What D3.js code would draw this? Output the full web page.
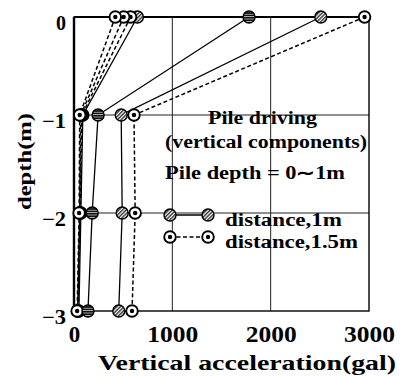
<!DOCTYPE html>
<html>
<head>
<meta charset="utf-8">
<script src="https://cdn.jsdelivr.net/npm/d3@7"></script>
<style>
  body { margin: 0; background: #fff; }
  svg text { font-family: "Liberation Serif", "Times New Roman", Times, serif; font-weight: bold; fill: #000; }
</style>
</head>
<body>
<svg id="chart" width="401" height="376"></svg>
<script>
// depth of each reading (m)
var depths = [0, -1, -2, -3];

// vertical acceleration (gal), one value per depth
var hatchA  = [2510, 480, 490, 455];   // distance 1m
var ringA   = [2955, 610, 622, 590];   // distance 1.5m
var stripeA = [1780, 245, 185, 142];
var hatchB  = [645, 90, 70, 50];
var ringB   = [575, 80, 62, 42];
var ringC   = [505, 68, 58, 38];
var ringD   = [420, 58, 52, 32];

var xTicks = [0, 1000, 2000, 3000];
var yTicks = [0, -1, -2, -3];
var legendLabels = ["distance,1m", "distance,1.5m"];
var noteLines = ["Pile driving", "(vertical components)", "Pile depth = 0\u223C1m"];

var svg = d3.select("#chart");

var x = d3.scaleLinear().domain([0, 3000]).range([74, 369]);
var y = d3.scaleLinear().domain([-3, 0]).range([311, 17]);

// patterns for the markers
var defs = svg.append("defs");
var ph = defs.append("pattern").attr("id", "hatch").attr("patternUnits", "userSpaceOnUse")
  .attr("width", 2.6).attr("height", 2.6).attr("patternTransform", "rotate(45)");
ph.append("rect").attr("width", 2.6).attr("height", 2.6).attr("fill", "#fff");
ph.append("rect").attr("width", 1.4).attr("height", 2.6).attr("fill", "#333");
var ps = defs.append("pattern").attr("id", "stripe").attr("patternUnits", "userSpaceOnUse")
  .attr("width", 3).attr("height", 2.4);
ps.append("rect").attr("width", 3).attr("height", 2.4).attr("fill", "#fff");
ps.append("rect").attr("width", 3).attr("height", 1.8).attr("fill", "#111");

// grid
svg.append("g").selectAll("line").data([1000, 2000]).enter().append("line")
  .attr("x1", d => x(d)).attr("x2", d => x(d)).attr("y1", y(0)).attr("y2", y(-3))
  .attr("stroke", "#222").attr("stroke-width", 1);
svg.append("g").selectAll("line").data([-1, -2]).enter().append("line")
  .attr("x1", x(0)).attr("x2", x(3000)).attr("y1", d => y(d)).attr("y2", d => y(d))
  .attr("stroke", "#222").attr("stroke-width", 1);

// frame
svg.append("rect").attr("x", x(0)).attr("y", y(0)).attr("width", x(3000) - x(0)).attr("height", y(-3) - y(0))
  .attr("fill", "none").attr("stroke", "#000").attr("stroke-width", 1.4);
svg.append("line").attr("x1", x(0)).attr("x2", x(0)).attr("y1", y(0)).attr("y2", y(-3))
  .attr("stroke", "#000").attr("stroke-width", 2.4);
svg.append("line").attr("x1", x(0)).attr("x2", x(3000)).attr("y1", y(0)).attr("y2", y(0))
  .attr("stroke", "#000").attr("stroke-width", 2);

// axes (labels only)
var xAxis = svg.append("g").attr("transform", "translate(0," + (y(-3) + 31) + ")")
  .call(d3.axisBottom(x).tickValues(xTicks).tickSize(0).tickFormat(d3.format("d")));
xAxis.select(".domain").remove();
xAxis.selectAll("text").attr("y", 0).attr("dy", 0)
  .style("font-size", "23px")
  .attr("textLength", d => d === 0 ? null : 51).attr("lengthAdjust", "spacingAndGlyphs");

var yAxis = svg.append("g").attr("transform", "translate(66,0)")
  .call(d3.axisLeft(y).tickValues(yTicks).tickSize(0).tickFormat(d => d === 0 ? "0" : "\u2212" + Math.abs(d)));
yAxis.select(".domain").remove();
yAxis.selectAll("text").attr("x", 0).attr("dy", "0.36em").attr("transform", "translate(0,5)")
  .style("font-size", "20px").attr("text-anchor", "end")
  .attr("textLength", d => d === 0 ? null : 24).attr("lengthAdjust", "spacingAndGlyphs");

svg.append("text").attr("x", 98).attr("y", 370).style("font-size", "21px")
  .attr("textLength", 298).attr("lengthAdjust", "spacingAndGlyphs")
  .text("Vertical acceleration(gal)");
svg.append("text").attr("transform", "translate(31,210) rotate(-90)").style("font-size", "18px")
  .attr("textLength", 97).attr("lengthAdjust", "spacingAndGlyphs")
  .text("depth(m)");

// note text
var notePos = [[208, 124, 109], [165, 148, 202], [165, 179, 180]];
svg.append("g").selectAll("text").data(noteLines).enter().append("text")
  .attr("x", (d, i) => notePos[i][0]).attr("y", (d, i) => notePos[i][1])
  .attr("textLength", (d, i) => notePos[i][2]).attr("lengthAdjust", "spacingAndGlyphs")
  .style("font-size", "18px").text(d => d);

// series
var series = [
  { v: hatchB, kind: "hatch" },
  { v: ringB, kind: "ring" },
  { v: ringC, kind: "ring" },
  { v: ringD, kind: "ring" },
  { v: stripeA, kind: "stripe" },
  { v: hatchA, kind: "hatch" },
  { v: ringA, kind: "ring" }
];

var line = d3.line().x(d => x(d[0])).y(d => y(d[1]));

function drawMarker(g, kind) {
  if (kind === "ring") {
    g.append("circle").attr("r", 5.8).attr("fill", "#fff").attr("stroke", "#000").attr("stroke-width", 1.9);
    g.append("circle").attr("r", 2.2).attr("fill", "#000");
  } else {
    g.append("circle").attr("r", 6).attr("fill", kind === "hatch" ? "url(#hatch)" : "url(#stripe)")
      .attr("stroke", "#000").attr("stroke-width", 1.4);
  }
}

series.forEach(function(s) {
  var pts = s.v.map((v, i) => [v, depths[i]]);
  svg.append("path").attr("d", line(pts)).attr("fill", "none").attr("stroke", "#000")
    .attr("stroke-width", s.kind === "ring" ? 1.5 : 1.3)
    .attr("stroke-dasharray", s.kind === "ring" ? "4,2.5" : null);
});
series.forEach(function(s) {
  var pts = s.v.map((v, i) => [v, depths[i]]);
  svg.append("g").selectAll("g").data(pts).enter().append("g")
    .attr("transform", d => "translate(" + x(d[0]) + "," + y(d[1]) + ")")
    .each(function() { drawMarker(d3.select(this), s.kind); });
});

// legend
var legendKinds = ["hatch", "ring"];
var lg = svg.append("g").selectAll("g").data(legendLabels).enter().append("g")
  .attr("transform", (d, i) => "translate(0," + (215 + i * 22) + ")");
lg.append("line").attr("x1", 170).attr("x2", 208).attr("stroke", "#000").attr("stroke-width", 1.5)
  .attr("stroke-dasharray", (d, i) => i === 1 ? "4,2.5" : null);
lg.each(function(d, i) {
  var g = d3.select(this);
  drawMarker(g.append("g").attr("transform", "translate(170,0)"), legendKinds[i]);
  drawMarker(g.append("g").attr("transform", "translate(208,0)"), legendKinds[i]);
});
lg.append("text").attr("x", 225).attr("y", 11).style("font-size", "18px")
  .attr("textLength", (d, i) => i === 0 ? 117 : 133).attr("lengthAdjust", "spacingAndGlyphs")
  .text(d => d);
</script>
</body>
</html>
